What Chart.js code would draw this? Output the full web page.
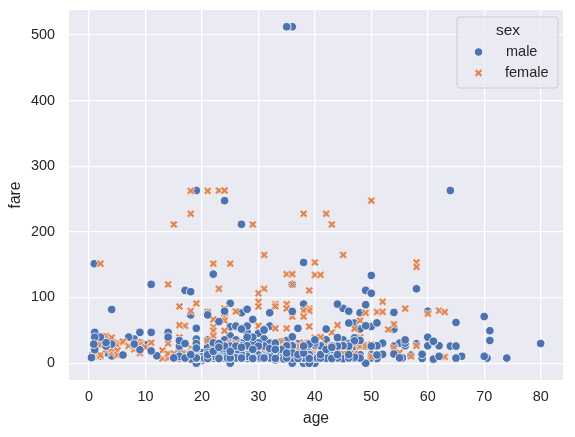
<!DOCTYPE html>
<html lang="en">
<head>
    <meta charset="UTF-8">
    <title>age vs fare by sex</title>
    <script src="https://cdn.jsdelivr.net/npm/chart.js"></script>
    <style>
        html, body { margin: 0; padding: 0; background: #ffffff; }
        #wrap { width: 575px; height: 437px; }
    </style>
</head>
<body>
<div id="wrap"><canvas id="scatter" width="575" height="437"></canvas></div>
<script>
const sexLabels = ['male', 'female'];
const sexColors = ['#4C72B0', '#DD8452'];
const xTicks = [0, 10, 20, 30, 40, 50, 60, 70, 80];
const yTicks = [0, 100, 200, 300, 400, 500];

// [age, fare] pairs
const maleData = [
    [36,512.33],[35,512.33],[19,263],[64,263],[24,247.52],[27,211.5],[0.92,151.55],[38,153.46],
    [22,135.63],[50,133.65],[36,120],[11,120],[17,110.88],[49,110.88],[18,108.9],[50,106.43],[58,113.28],
    [4,81.86],[25,91.08],[44,90],[38,90],[49,89.1],[27,76.73],[28,82.17],[24,73.5],[21,73.5],[18,73.5],
    [32,76.73],[45,83.48],[46,79.2],[48,76.73],[54,77.29],[60,79.2],[36,78.85],[70,71],[65,61.98],
    [29,66.6],[24,79.2],[21,77.29],[23,63.36],[25,55.44],[31,52],[32,56.5],[37,53.1],[19,53.1],[42,52],
    [48,52],[49,56.93],[50,55.9],[51,61.38],[47,61.18],[46,61.18],[54,51.86],[28,56.5],[26,56.5],[27,52],
    [27,53.1],[31,50.5],[28,47.1],[36,40.13],[45,35.5],[47,38.5],[25,41.58],[31,37],[71,49.5],[71,34.65],
    [80,30],[74,7.78],[70.5,7.75],[70,10.5],[66,10.5],[65,7.75],[64,26],[65,26],[62,26.55],[62,10.5],
    [61,6.24],[61,32.32],[60,26.55],[60,39.6],[59,7.25],[59,13.5],[58,29.7],[56,35.5],[56,26.55],
    [55.5,8.05],[55,30.5],[54,14],[54,26],[52,30.5],[52,13.5],[51,26.55],[51,7.05],[51,12.53],[50,13],
    [50,26],[50,8.05],[49,0],[49,26],[48,7.85],[48,13],[48,34.65],[48,26.55],[47,34.02],[47,25.59],
    [47,9],[47,7.25],[46,26],[46,7.25],[45,26.55],[45,8.05],[45,6.98],[45,7.75],[44,26],[44,16.1],
    [44,8.05],[44,7.93],[43,8.05],[43,6.45],[43,26.25],[42,26.29],[42,8.66],[42,7.55],[42,13],[42,32.5],
    [42,7.65],[41,7.13],[41,14.11],[41,15.04],[41,26.55],[41,7.85],[40,27.72],[40,0],[40,7.9],[40,9.48],
    [40,31],[40,13],[39,0],[39,7.92],[39,13],[39,24.15],[39,29.13],[39,26],[39,7.9],[38,0],[38,7.05],
    [38,8.66],[38,7.9],[37,26],[37,7.92],[37,29.7],[37,7.75],[37,9.59],[36,0],[36,7.9],[36,10.5],
    [36,12.88],[36,26.39],[36,26],[36,7.5],[36,24.15],[36,15.55],[35,8.05],[35,26.29],[35,7.05],
    [35,26.55],[35,7.13],[35,7.75],[35,10.5],[34,13],[34,8.05],[34,6.5],[34,26.55],[34,21],[34,14.5],
    [34,7.9],[34,32.5],[33,5],[33,7.9],[33,8.65],[33,7.78],[33,12.28],[33,9.5],[33,20.53],[33,8.05],
    [32,8.36],[32,7.85],[32,30.5],[32,7.75],[32,7.93],[32,10.5],[32,13],[32,15.5],[32,8.05],[32,26],
    [31,7.78],[31,7.85],[31,10.5],[31,18],[31,26.25],[31,7.73],[31,8.05],[31,13],[30,13],[30,8.66],
    [30,7.23],[30,24.15],[30,7.9],[30,16.1],[30,9.5],[30,27.75],[30,31],[30,8.05],[30,12.48],[29,9.5],
    [29,7.05],[29,7.78],[29,10.5],[29,27.72],[29,30],[29,7.88],[29,8.05],[29,13],[28,26.55],[28,7.9],
    [28,13],[28,35.5],[28,9.5],[28,22.53],[28,7.25],[28,15.85],[28,7.8],[28,13.86],[28,10.5],[27,7.8],
    [27,6.98],[27,30.5],[27,14.45],[27,8.66],[27,13],[27,10.5],[27,7.79],[27,26],[26,7.88],[26,14.45],
    [26,18.79],[26,30],[26,8.66],[26,7.78],[26,25.93],[26,7.9],[26,8.05],[26,13],[25,0],[25,7.05],
    [25,7.65],[25,13],[25,26],[25,7.74],[25,17.8],[25,7.25],[25,7.9],[25,30.7],[24,16.1],[24,7.05],
    [24,7.5],[24,8.05],[24,9.5],[24,13],[24,26],[24,7.14],[23,7.85],[23,7.8],[23,15.05],[23,13],
    [23,10.5],[23,7.55],[23,9.22],[22,7.25],[22,9.35],[22,7.23],[22,7.8],[22,8.05],[22,10.52],[22,7.52],
    [22,31],[22,13],[21,7.8],[21,8.43],[21,16.1],[21,11.5],[21,7.73],[21,34.38],[21,6.5],[21,10.5],
    [20,7.05],[20,4.01],[20,9.84],[20,7.92],[20,9.23],[20,15.74],[20,7.85],[20,8.05],[20,9.5],[19,0],
    [19,36.75],[19,8.16],[19,7.78],[19,6.75],[19,10.17],[19,14.5],[19,30],[19,7.65],[19,8.05],[18,11.5],
    [18,8.3],[18,7.8],[18,6.5],[18,7.75],[18,14.45],[18,13],[17,7.23],[17,8.66],[17,7.13],[17,14.46],
    [16,26],[16,9.22],[16,8.05],[16,18],[16,34.38],[16,20.25],[16,10.5],[15,7.23],[15,8.03],[14,46.9],
    [14,39.69],[14,11.24],[12,11.24],[11,46.9],[11,18.79],[10,27.9],[9,46.9],[9,31.39],[9,20.53],
    [8,36.75],[8,29.13],[7,39.69],[6,12.48],[4,11.13],[4,29.13],[4,31.27],[3,26],[3,15.9],[3,31.39],
    [2,29.13],[2,39.69],[2,10.46],[1,39.69],[1,46.9],[1,20.58],[1,11.13],[0.83,29],[0.67,14.5],[0.42,8.52],
    [28.5,7.23],[30.5,8.05],[32.5,13],[34.5,6.44],[36.5,26],[40.5,7.75],[45.5,7.23],[20.5,7.25],
    [23.5,7.23],[24.5,8.05],[14.5,14.45],[55,8.05],[57,12.35],[61,33.5],[56,30.7],
    [17,7.9],[18,7.9],[19,7.9],[20,7.25],[21,7.25],[22,7.9],[23,7.25],[24,7.9],[25,8.05],[26,7.25],
    [27,7.9],[28,7.75],[29,7.25],[30,7.25],[31,7.9],[32,7.25],[33,7.25],[34,7.75],[35,7.9],[36,7.75],
    [37,7.25],[38,7.25],[39,7.25],[40,7.25],[41,7.9],[42,7.25],[43,7.25],[44,7.25],[46,7.9],[48,7.25],
    [18,13],[20,13],[21,13],[23,26],[26,26],[27,26.55],[30,26],[31,26],[33,26],[34,26],[37,13],[38,13],
    [41,13],[43,13],[44,13],[45,13],[46,13],[20,16.1],[22,18],[23,20.53],[25,18],[28,20.53],[29,21],
    [30,21],[32,22.53],[33,15.5],[35,15.5],[37,16.1],[38,15.5],[40,18],[42,21],[44,21],[29,39.6],
    [30,45.5],[33,30.7],[35,34.65],[40,35.5],[42,35.5],[44,39],[46,30],[23,30],[21,35.5],[17,30],
    [26,35.5],[28,39.6],[24,35.5],[19,23],[21,24.15],[23,24.15],[25,22.03],[27,24.15],[31,24.15],
    [33,21],[36,22],[38,26],[40,26],[43,24.15],[46,24]
];

const femaleData = [
    [35,512.33],[18,262.38],[21,262.38],[23,263],[24,263],[18,227.53],[15,211.34],[29,211.34],
    [38,227.53],[42,227.53],[43,211.34],[50,247.52],[2,151.55],[22,151.55],[25,151.55],[31,164.87],
    [45,164.87],[40,153.46],[58,153.46],[58,146.52],[35,135.63],[36,135.63],[40,134.5],[41,134.5],
    [36,120],[14,120],[23,113.28],[31,113.28],[30,106.43],[39,110.88],[30,93.5],[30,86.5],[52,93.5],
    [16,86.5],[19,91.08],[24,83.16],[33,90],[35,90],[33,86.5],[35,83.47],[39,83.16],[39,79.65],[38,80],
    [18,79.65],[21,77.96],[26,78.85],[49,76.73],[51,77.96],[52,78.27],[54,77.96],[56,83.16],[60,75.25],
    [62,80],[63,77.96],[36,71],[38,71],[22,66.6],[24,69.3],[48,65],[24,65],[17,57],[16,57.98],[30,56.93],
    [39,55.9],[44,57.98],[54,59.4],[22,55],[22,49.5],[24,49.5],[43,46.9],[53,51.48],[47,52.55],[33,53.1],
    [35,53.1],[3,41.58],[4,39],[16,39.4],[22,41.58],[40,39],[41,39.69],[48,39.6],[21,34.38],
    [0.75,19.26],[1,15.74],[2,10.46],[2,27.9],[2,12.29],[3,21.08],[4,16.7],[4,22.03],[5,31.39],[5,27.75],
    [5,19.26],[5,12.48],[6,31.28],[6,33],[7,26.25],[8,21.08],[8,26.25],[9,15.25],[9,31.28],[9,27.9],
    [10,24.15],[11,31.28],[13,19.5],[13,7.23],[14,11.24],[14,30.07],[14,7.85],[14,14.45],[15,14.45],
    [15,7.23],[15,8.03],[16,7.75],[16,7.65],[16,10.5],[17,7.73],[17,10.5],[17,14.46],[18,9.35],[18,23],
    [18,13],[18,7.78],[18,17.8],[18,14.45],[19,30],[19,26],[19,7.88],[19,16.1],[20,9.83],[20,8.66],
    [21,9.83],[21,7.75],[21,10.5],[22,7.75],[22,10.52],[22,13],[22,29],[23,7.55],[23,13.79],[23,7.93],
    [24,27.72],[24,13],[24,16.7],[24,26],[24,15.85],[25,26],[25,7.93],[25,30.5],[26,30],[26,7.93],
    [26,16.1],[27,11.13],[27,21],[27,12.48],[27,10.5],[28,24],[28,7.9],[28,13],[28,14.4],[29,10.46],
    [29,26],[29,7.78],[30,31],[30,24.15],[30,12.48],[30,8.66],[30,13],[30,7.63],[31,26.25],[31,18],
    [31,20.53],[31,8.68],[32,15.5],[32,13],[32,7.75],[33,15.85],[33,26],[33,12.28],[34,32.5],[34,10.5],
    [34,23],[35,21],[35,16.1],[35,26],[36,26],[36,17.4],[36,12.18],[37,9.59],[37,26],[38,7.23],
    [38,31.39],[39,29.13],[39,31.28],[39,13.42],[40,9.48],[40,15.5],[40,13],[41,20.21],[41,14.11],
    [42,13],[42,26],[43,26.25],[44,27.72],[44,16.1],[45,14.45],[45,26.25],[45,27.9],[45,7.75],[47,30],
    [47,14.5],[48,26],[48,34.38],[48,25.93],[49,25.93],[50,26],[50,10.5],[50,28.71],[51,26],[54,23],
    [55,16],[57,10.5],[58,26.55],[63,9.59]
];

// filled "X" marker like seaborn's
function makeCross(color, size) {
    const d = Math.ceil(size + 4);
    const c = document.createElement('canvas');
    c.width = d; c.height = d;
    const g = c.getContext('2d');
    g.translate(d / 2, d / 2);
    g.rotate(Math.PI / 4);
    const a = size / 2, b = size / 6;
    g.beginPath();
    g.moveTo(-b, -a); g.lineTo(b, -a); g.lineTo(b, -b); g.lineTo(a, -b);
    g.lineTo(a, b); g.lineTo(b, b); g.lineTo(b, a); g.lineTo(-b, a);
    g.lineTo(-b, b); g.lineTo(-a, b); g.lineTo(-a, -b); g.lineTo(-b, -b);
    g.closePath();
    g.fillStyle = color;
    g.fill();
    g.lineWidth = 0.8;
    g.strokeStyle = '#ffffff';
    g.stroke();
    return c;
}
const crossMark = makeCross(sexColors[1], 9);

const textColor = '#262626';
const fontFamily = "'Liberation Sans', Arial, sans-serif";

const plotBackground = {
    id: 'plotBackground',
    beforeDraw(chart) {
        const { ctx, chartArea: a } = chart;
        ctx.save();
        ctx.fillStyle = '#EAEAF2';
        ctx.fillRect(a.left, a.top, a.right - a.left, a.bottom - a.top);
        ctx.restore();
    }
};

const sexLegend = {
    id: 'sexLegend',
    afterDraw(chart) {
        const { ctx, chartArea: a } = chart;
        const right = a.right - 5, top = a.top + 7;
        const w = 101, h = 71, left = right - w;
        ctx.save();
        ctx.beginPath();
        ctx.roundRect(left, top, w, h, 3);
        ctx.fillStyle = 'rgba(234,234,242,0.8)';
        ctx.fill();
        ctx.strokeStyle = '#cccccc';
        ctx.lineWidth = 1;
        ctx.stroke();
        ctx.fillStyle = textColor;
        ctx.textBaseline = 'middle';
        ctx.textAlign = 'center';
        ctx.font = '15.5px ' + fontFamily;
        ctx.fillText('sex', left + 51, top + 14);
        ctx.textAlign = 'left';
        ctx.font = '14.5px ' + fontFamily;
        // male
        ctx.beginPath();
        ctx.arc(left + 21.5, top + 35, 4.2, 0, Math.PI * 2);
        ctx.fillStyle = sexColors[0];
        ctx.fill();
        ctx.strokeStyle = '#ffffff';
        ctx.lineWidth = 0.8;
        ctx.stroke();
        ctx.fillStyle = textColor;
        ctx.fillText(sexLabels[0], left + 49, top + 35);
        // female
        ctx.drawImage(crossMark, left + 21.5 - crossMark.width / 2, top + 56 - crossMark.height / 2);
        ctx.fillText(sexLabels[1], left + 48, top + 56);
        ctx.restore();
    }
};

const toPoints = arr => arr.map(p => ({ x: p[0], y: p[1] }));
// seaborn draws rows in table order, so the two groups overlap each other;
// split the males so half sit under the crosses and half on top
const maleStyle = {
    label: sexLabels[0],
    pointStyle: 'circle',
    pointRadius: 4.3,
    backgroundColor: sexColors[0],
    borderColor: '#ffffff',
    borderWidth: 0.8
};

new Chart(document.getElementById('scatter'), {
    type: 'scatter',
    data: {
        datasets: [
            { ...maleStyle, data: toPoints(maleData.filter((p, i) => i % 2 === 0)), order: 3 },
            {
                label: sexLabels[1],
                data: toPoints(femaleData),
                pointStyle: crossMark,
                pointRadius: 5,
                order: 2
            },
            { ...maleStyle, data: toPoints(maleData.filter((p, i) => i % 2 === 1)), order: 1 }
        ]
    },
    options: {
        responsive: false,
        animation: false,
        devicePixelRatio: 1,
        layout: { padding: { top: 10, right: 12, left: 0, bottom: 0 } },
        plugins: {
            legend: { display: false },
            tooltip: { enabled: false }
        },
        scales: {
            x: {
                type: 'linear',
                min: -3.56,
                max: 83.96,
                afterBuildTicks: s => { s.ticks = xTicks.map(v => ({ value: v })); },
                afterFit: s => { s.height = 57; s.paddingLeft = 0; s.paddingRight = 0; },
                grid: { color: '#ffffff', lineWidth: 1.3, drawTicks: false },
                border: { display: false },
                ticks: { color: textColor, font: { family: fontFamily, size: 14.4 }, padding: 8, maxRotation: 0 },
                title: { display: true, text: 'age', color: textColor, font: { family: fontFamily, size: 15.6 }, padding: { top: 0, bottom: 9 } }
            },
            y: {
                type: 'linear',
                min: -25.6,
                max: 537.9,
                afterBuildTicks: s => { s.ticks = yTicks.map(v => ({ value: v })); },
                afterFit: s => { s.width = 69; s.paddingTop = 0; s.paddingBottom = 0; },
                grid: { color: '#ffffff', lineWidth: 1.3, drawTicks: false },
                border: { display: false },
                ticks: { color: textColor, font: { family: fontFamily, size: 14.4 }, padding: 14 },
                title: { display: true, text: 'fare', color: textColor, font: { family: fontFamily, size: 15.6 }, padding: { top: 6, bottom: 0 } }
            }
        }
    },
    plugins: [plotBackground, sexLegend]
});
</script>
</body>
</html>
